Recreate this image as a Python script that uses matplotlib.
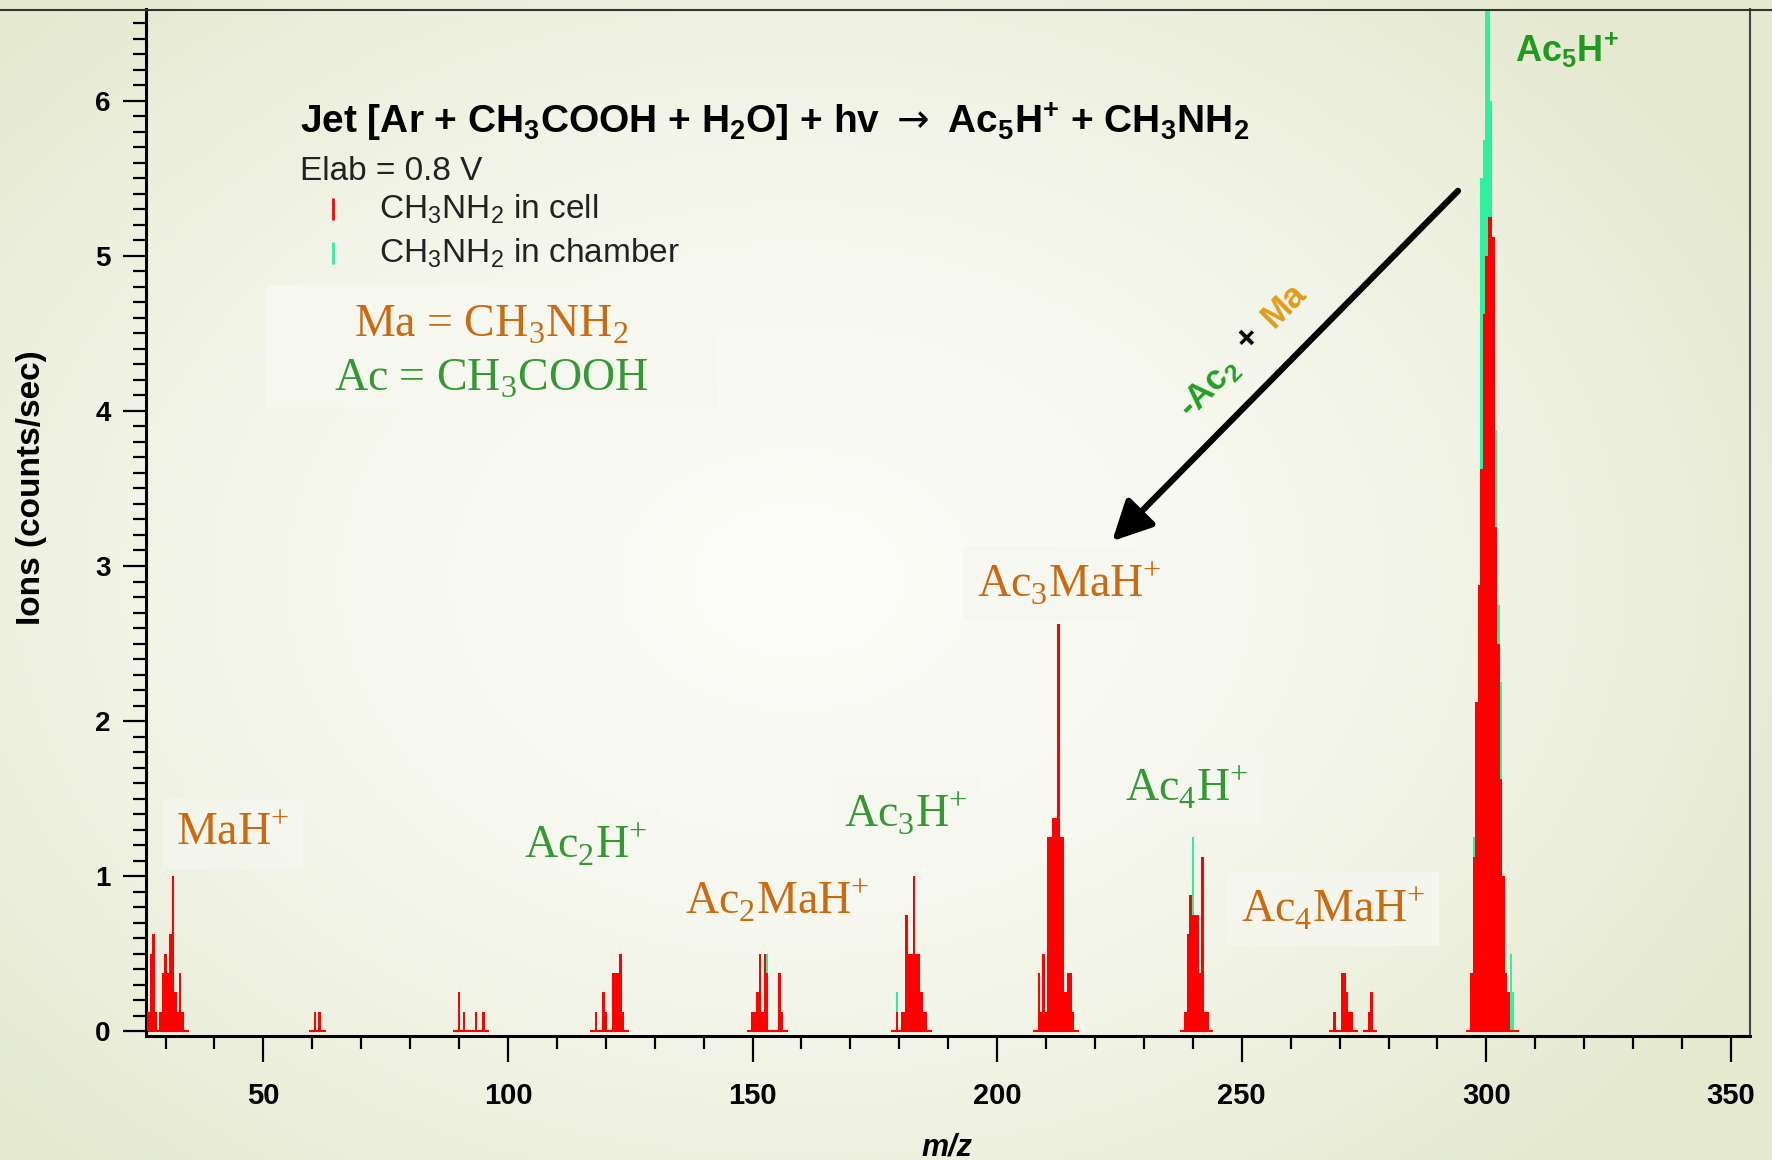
import matplotlib.pyplot as plt
from matplotlib.lines import Line2D
from matplotlib.patches import Rectangle
from matplotlib.ticker import MultipleLocator
import numpy as np

# spectrum, CH3NH2 in cell (red) -- m/z and ions (counts/sec)
cell_mz = [26.5, 27.0, 27.5, 28.0, 29.0, 29.5, 30.0, 30.5, 31.0, 31.5, 32.0, 32.5, 33.0, 33.5,
           60.5, 61.5,
           90.0, 91.0, 93.5, 95.0,
           118.0, 119.5, 120.0, 121.5, 122.0, 122.5, 123.0, 123.5,
           150.0, 150.5, 151.0, 151.5, 152.0, 152.5, 153.0, 155.5, 156.0,
           179.5, 180.5, 181.0, 181.5, 182.0, 182.5, 183.0, 183.5, 184.0, 184.5, 185.0, 185.5,
           208.5, 209.0, 209.5, 210.0, 210.5, 211.0, 211.5, 212.0, 212.5, 213.0, 213.5, 214.0,
           214.5, 215.0, 215.5,
           238.5, 239.0, 239.5, 240.0, 240.5, 241.0, 241.5, 242.0, 242.5, 243.0,
           269.0, 270.5, 271.0, 271.5, 272.0, 272.5, 276.0, 276.5,
           297.0, 297.5, 298.0, 298.5, 299.0, 299.5, 300.0, 300.5, 301.0, 301.5, 302.0, 302.5,
           303.0, 303.5, 304.0, 304.5]
cell_ions = [0.125, 0.5, 0.625, 0.125, 0.125, 0.375, 0.5, 0.375, 0.625, 1.0, 0.25, 0.125, 0.375, 0.125,
             0.125, 0.125,
             0.25, 0.125, 0.125, 0.125,
             0.125, 0.25, 0.125, 0.375, 0.375, 0.375, 0.5, 0.125,
             0.125, 0.125, 0.25, 0.5, 0.125, 0.5, 0.375, 0.375, 0.125,
             0.125, 0.125, 0.125, 0.75, 0.5, 0.5, 1.0, 0.5, 0.5, 0.25, 0.125, 0.125,
             0.375, 0.125, 0.5, 0.125, 1.25, 1.25, 1.375, 1.375, 2.625, 1.25, 1.25, 0.25,
             0.375, 0.375, 0.125,
             0.125, 0.625, 0.875, 0.75, 0.75, 0.75, 0.375, 1.125, 0.125, 0.125,
             0.125, 0.375, 0.375, 0.25, 0.125, 0.125, 0.125, 0.25,
             0.375, 1.125, 2.125, 2.875, 3.625, 4.625, 5.0, 5.25, 5.25, 5.125, 3.25, 2.5,
             1.625, 1.0, 0.375, 0.25]

# CH3NH2 in chamber (green), only where it shows above the red
chamber_mz = [153.0, 179.5, 240.0,
              297.5, 298.0, 298.5, 299.0, 299.5, 300.0, 300.5, 301.0, 301.5, 302.0, 302.5, 303.0,
              305.0, 305.5]
chamber_ions = [0.5, 0.25, 1.25,
                1.25, 1.75, 2.875, 5.5, 5.75, 7.0, 7.0, 6.0, 4.75, 3.875, 2.75, 2.25,
                0.5, 0.25]

# peak labels
ion_labels = [r'MaH$^{\mathdefault{+}}$', r'Ac$_{\mathdefault{2}}$H$^{\mathdefault{+}}$',
              r'Ac$_{\mathdefault{2}}$MaH$^{\mathdefault{+}}$', r'Ac$_{\mathdefault{3}}$H$^{\mathdefault{+}}$',
              r'Ac$_{\mathdefault{3}}$MaH$^{\mathdefault{+}}$', r'Ac$_{\mathdefault{4}}$H$^{\mathdefault{+}}$',
              r'Ac$_{\mathdefault{4}}$MaH$^{\mathdefault{+}}$']
ion_label_x = [43.8, 115.8, 155.0, 181.4, 214.7, 238.8, 268.7]
ion_label_y = [1.20, 1.11, 0.75, 1.31, 2.80, 1.48, 0.70]
ion_is_ma = [True, False, True, False, True, False, True]

RED = '#ff0000'
MINT = '#2ef0a0'
ORANGE = '#cc6a10'
GREEN = '#339933'

plt.rcParams['mathtext.fontset'] = 'dejavusans'
SANS = 'Liberation Sans'
SERIF = 'Liberation Serif'

fig = plt.figure(figsize=(17.72, 11.6), dpi=100)

# faded background like the slide
bg = fig.add_axes([0, 0, 1, 1])
bg.set_zorder(0)
yy, xx = np.mgrid[0:1:300j, 0:1:400j]
r = np.clip(np.sqrt(((xx - 0.45) / 0.62) ** 2 + ((yy - 0.5) / 0.7) ** 2), 0, 1) ** 1.6
c0 = np.array([252, 252, 248]) / 255
c1 = np.array([228, 233, 207]) / 255
bg.imshow(c0 + (c1 - c0) * r[..., None], aspect='auto', extent=(0, 1, 0, 1))
bg.axis('off')

ax = fig.add_axes([146 / 1772, 1 - 1036 / 1160, (1750 - 146) / 1772, (1036 - 9.5) / 1160])
ax.set_zorder(1)
ax.set_facecolor('none')

ax.bar(chamber_mz, chamber_ions, width=0.5, color=MINT, linewidth=0, zorder=2)
ax.bar(cell_mz, cell_ions, width=0.5, color=RED, linewidth=0, zorder=3)

# short zero lines under each peak group
mz_sorted = np.sort(np.array(cell_mz + chamber_mz))
breaks = np.where(np.diff(mz_sorted) > 3)[0]
starts = np.r_[mz_sorted[0], mz_sorted[breaks + 1]]
ends = np.r_[mz_sorted[breaks], mz_sorted[-1]]
ax.hlines(np.zeros(len(starts)), starts - 1.2, ends + 1.2, color=RED, lw=1.5, zorder=2)

ax.set_xlim(26.0, 353.9)
ax.set_ylim(-0.032, 6.59)

ax.xaxis.set_major_locator(MultipleLocator(50))
ax.xaxis.set_minor_locator(MultipleLocator(10))
ax.yaxis.set_major_locator(MultipleLocator(1))
ax.yaxis.set_minor_locator(MultipleLocator(0.1))
ax.tick_params(axis='x', which='major', length=19, width=1.6, pad=14, labelsize=21)
ax.tick_params(axis='x', which='minor', length=9.5, width=1.6)
ax.tick_params(axis='y', which='major', length=16.5, width=1.6, pad=9, labelsize=20)
ax.tick_params(axis='y', which='minor', length=9.5, width=1.6)
for lab in ax.get_xticklabels() + ax.get_yticklabels():
    lab.set_fontfamily(SANS)
    lab.set_fontweight('bold')

for side in ['left', 'bottom']:
    ax.spines[side].set_linewidth(2.2)
ax.spines['right'].set_linewidth(1.5)
ax.spines['right'].set_color('#444444')
ax.spines['top'].set_visible(False)
fig.add_artist(Line2D([0, 1], [1 - 9.5 / 1160] * 2, transform=fig.transFigure,
                      color='#333333', lw=1.5))

ax.set_xlabel('m/z', family=SANS, fontsize=22, fontweight='bold', style='italic')
ax.xaxis.set_label_coords(0.4994, -0.094)
ax.set_ylabel('Ions (counts/sec)', family=SANS, fontsize=24, fontweight='bold')
ax.yaxis.set_label_coords(-0.062, 0.534)

# heading, Elab and legend
ax.text(0.096, 0.880, r'Jet [Ar + CH$_{\mathdefault{3}}$COOH + H$_{\mathdefault{2}}$O] + hv $\rightarrow$ '
        r'Ac$_{\mathdefault{5}}$H$^{\mathdefault{+}}$ + CH$_{\mathdefault{3}}$NH$_{\mathdefault{2}}$',
        transform=ax.transAxes, family=SANS, fontsize=28, fontweight='bold', va='baseline')
ax.text(0.096, 0.834, 'Elab = 0.8 V', transform=ax.transAxes, family=SANS, fontsize=24,
        va='baseline', color='#222222')
for ty, col, txt in [(0.797, RED, 'in cell'), (0.7534, MINT, 'in chamber')]:
    ax.plot([0.1166], [ty + 0.009], transform=ax.transAxes, marker='|', ms=16, mew=2,
            color=col, linestyle='none', clip_on=False)
    ax.text(0.1453, ty, r'CH$_{\mathdefault{3}}$NH$_{\mathdefault{2}}$ ' + txt,
            transform=ax.transAxes, family=SANS, fontsize=24, va='baseline', color='#222222')

# definitions box
ax.add_patch(Rectangle((0.0748, 0.613), 0.2818, 0.119, transform=ax.transAxes,
                       facecolor='#f6f7ef', edgecolor='none', zorder=1))
ax.text(96.6, 4.48, r'Ma = CH$_{\mathdefault{3}}$NH$_{\mathdefault{2}}$', family=SERIF, fontsize=33,
        color=ORANGE, ha='center', va='baseline', zorder=4)
ax.text(96.6, 4.13, r'Ac = CH$_{\mathdefault{3}}$COOH', family=SERIF, fontsize=33,
        color=GREEN, ha='center', va='baseline', zorder=4)

for txt, x, y, is_ma in zip(ion_labels, ion_label_x, ion_label_y, ion_is_ma):
    ax.text(x, y, txt, family=SERIF, fontsize=33, color=ORANGE if is_ma else GREEN,
            ha='center', va='baseline', zorder=4,
            bbox=dict(boxstyle='square,pad=0.3', facecolor='#f6f7ef', edgecolor='none', alpha=0.8))

ax.text(305.9, 6.33, r'Ac$_{\mathdefault{5}}$H$^{\mathdefault{+}}$', family=SANS, fontsize=26,
        fontweight='bold', color='#1f9a1f', va='center', zorder=4)

# reaction arrow
ax.annotate('', xy=(223.5, 3.16), xytext=(294.2, 5.42),
            arrowprops=dict(arrowstyle='-|>,head_length=0.8,head_width=0.4', lw=4.5,
                            color='black', mutation_scale=30, shrinkA=0, shrinkB=0), zorder=5)
for txt, x, y, col in [(r'-Ac$_{\mathdefault{2}}$', 243.3, 4.15, '#22a022'),
                       ('+', 251.3, 4.47, 'black'),
                       ('Ma', 258.6, 4.68, '#e39a1c')]:
    ax.text(x, y, txt, family=SANS, fontsize=25, fontweight='bold', color=col,
            rotation=45, rotation_mode='anchor', ha='center', va='center', zorder=5)

fig.savefig('out.png', dpi=100)
